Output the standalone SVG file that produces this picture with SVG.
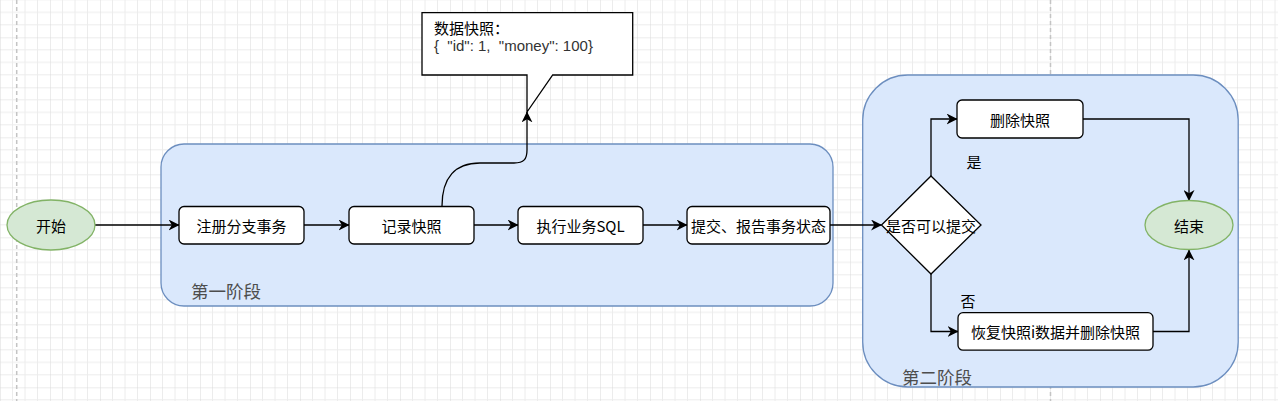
<svg xmlns="http://www.w3.org/2000/svg" width="1278" height="401" viewBox="0 0 1278 401">
<style>
text{font-family:"Noto Sans CJK SC","Liberation Sans",sans-serif;font-size:15px;fill:#000;}
.c{text-anchor:middle;dominant-baseline:central;}
.phase{fill:#dae8fc;stroke:#6c8ebf;stroke-width:1.3;}
.box{fill:#fff;stroke:#000;stroke-width:1.3;}
.term{fill:#d5e8d4;stroke:#82b366;stroke-width:1.3;}
.edge{fill:none;stroke:#000;stroke-width:1.3;}
.lbl{fill:#4d4d4d;font-size:17.5px;}
.pg{stroke:#c4c4c4;stroke-width:1.5;stroke-dasharray:4 3;}
</style>
<defs>
<pattern id="grid" patternUnits="userSpaceOnUse" x="0" y="37.3" width="50" height="50">
<path d="M12.5 0V50M25 0V50M37.5 0V50M0 12.5H50M0 25H50M0 37.5H50" stroke="#ececec" stroke-width="1" fill="none"/>
<path d="M0 0V50M0 0H50" stroke="#d9d9d9" stroke-width="1" fill="none"/>
</pattern>
<marker id="arr" viewBox="0 0 10 10" refX="9.5" refY="5" markerWidth="11" markerHeight="11" markerUnits="userSpaceOnUse" orient="auto">
<path d="M0 0L10 5L0 10L3 5Z" fill="#000"/>
</marker>
</defs>
<rect width="1278" height="401" fill="#fff"/>
<rect width="1278" height="401" fill="url(#grid)"/>
<line class="pg" x1="16.7" y1="0" x2="16.7" y2="401"/>
<line class="pg" x1="1050.5" y1="0" x2="1050.5" y2="401"/>

<g id="phase1">
<rect class="phase" x="161" y="144" width="672" height="162" rx="23"/>
<text class="lbl" x="191" y="290.5" dominant-baseline="central">第一阶段</text>
</g>
<g id="phase2">
<rect class="phase" x="862.7" y="75" width="375.5" height="312" rx="45"/>
<text class="lbl" x="902" y="376" dominant-baseline="central">第二阶段</text>
</g>

<g id="callout">
<path d="M422 12.7H632.7V75H552.7L527 112V75H422Z" fill="#fff" stroke="#000" stroke-width="1.3"/>
<text x="434" y="27.5" dominant-baseline="central">数据快照：</text>
<text x="434" y="45" dominant-baseline="central" xml:space="preserve" style="font-family:'Liberation Sans',sans-serif;fill:#333;">{  "id": 1,  "money": 100}</text>
</g>

<g id="connectors">
<path class="edge" d="M95 225H179" marker-end="url(#arr)"/>
<path class="edge" d="M304 225H349" marker-end="url(#arr)"/>
<path class="edge" d="M474 225H518" marker-end="url(#arr)"/>
<path class="edge" d="M643 225H687" marker-end="url(#arr)"/>
<path class="edge" d="M830 225H881.5" marker-end="url(#arr)"/>
<path class="edge" d="M442 206C442 178 455 163 480 163L514 163C524 163 527 159 527 150L527 112" marker-end="url(#arr)"/>
<path class="edge" d="M931 176V119H957" marker-end="url(#arr)"/>
<path class="edge" d="M931 274V331.5H958" marker-end="url(#arr)"/>
<path class="edge" d="M1083 119H1189V200.5" marker-end="url(#arr)"/>
<path class="edge" d="M1153 331.5H1189V250" marker-end="url(#arr)"/>
<text x="974" y="161" class="c">是</text>
<text x="968" y="300" class="c">否</text>
</g>

<g id="start">
<ellipse class="term" cx="51" cy="225" rx="44" ry="25"/>
<text x="51" y="225" class="c">开始</text>
</g>
<g id="n1">
<rect class="box" x="179" y="206.5" width="125" height="37.5" rx="5"/>
<text x="241.5" y="225" class="c">注册分支事务</text>
</g>
<g id="n2">
<rect class="box" x="349" y="206.5" width="125" height="37.5" rx="5"/>
<text x="411.5" y="225" class="c">记录快照</text>
</g>
<g id="n3">
<rect class="box" x="518" y="206.5" width="125" height="37.5" rx="5"/>
<text x="580.5" y="225" class="c">执行业务SQL</text>
</g>
<g id="n4">
<rect class="box" x="687" y="206.5" width="143" height="37.5" rx="5"/>
<text x="758.5" y="225" class="c">提交、报告事务状态</text>
</g>
<g id="decision">
<path class="box" d="M931 176L981 225L931 274L881.5 225Z"/>
<text x="931" y="225" class="c">是否可以提交</text>
</g>
<g id="del">
<rect class="box" x="957" y="100" width="126" height="38" rx="5"/>
<text x="1020" y="119" class="c">删除快照</text>
</g>
<g id="restore">
<rect class="box" x="958" y="312.7" width="195" height="37.5" rx="5"/>
<text x="1055.5" y="331.5" class="c">恢复快照i数据并删除快照</text>
</g>
<g id="end">
<ellipse class="term" cx="1189" cy="225" rx="44" ry="24.5"/>
<text x="1189" y="225" class="c">结束</text>
</g>
</svg>
